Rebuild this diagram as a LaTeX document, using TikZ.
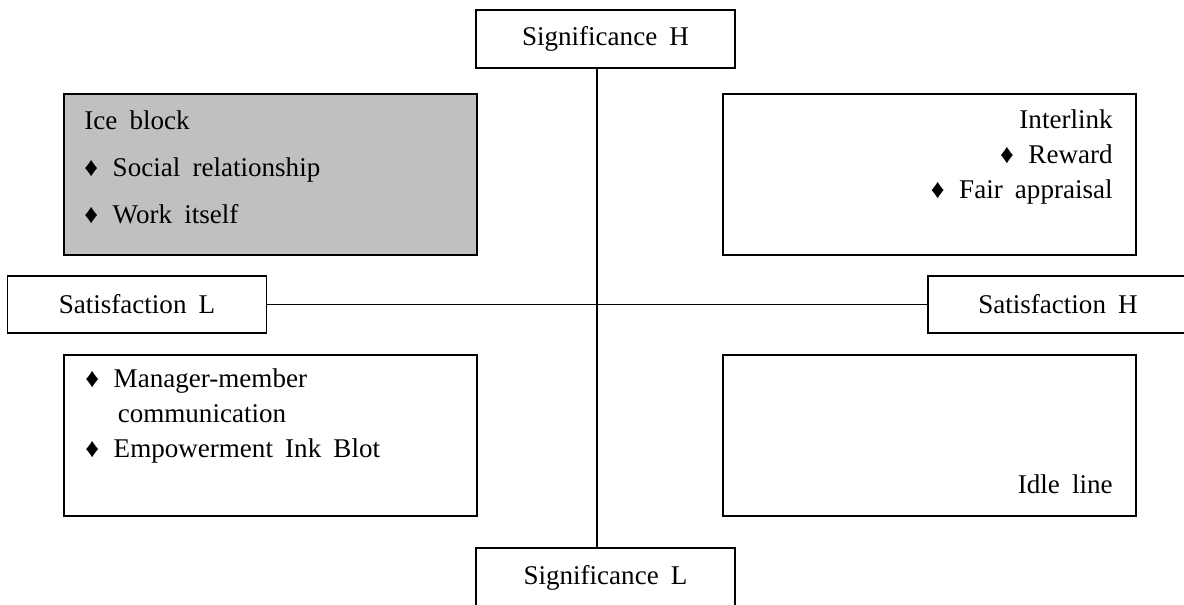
\documentclass[tikz,border=0pt]{standalone}
\usepackage{fontspec}
\setmainfont{Liberation Serif}[WordSpace=1.8]
\usetikzlibrary{positioning}
\definecolor{iceblock}{RGB}{192,192,192}
\tikzstyle{axisbox}  = [rectangle, minimum width=5.18cm, minimum height=1.15cm, inner sep=0, text centered, draw=black, line width=1.1pt, fill=white]
\tikzstyle{quadrant} = [rectangle, minimum width=8.26cm, minimum height=3.22cm, inner sep=0, draw=black, line width=1.1pt]
\tikzstyle{axisline} = [line width=0.8pt]
\tikzstyle{wide}     = [inner sep=0, align=left, font=\fontsize{15.4}{26.7}\selectfont]
\tikzstyle{narrow}   = [inner sep=0, font=\fontsize{15.4}{19.9}\selectfont]
\newcommand{\itm}{\makebox[1.05em][l]{♦}}

\begin{document}
\begin{tikzpicture}[x=0.02cm, y=-0.02cm, font=\fontsize{15.4}{18.5}\selectfont]
        \useasboundingbox (0,0) rectangle (1184,605);
        \coordinate (cross) at (597,304);

        \node (sigH) [axisbox] at (605.5,39) {Significance H};
        \node (sigL) [axisbox, minimum height=1.2cm] at (605.5,578) {Significance L};
        \node (satL) [axisbox] at (137,304.5) {Satisfaction L};
        \node (satH) [axisbox, minimum width=5.2cm] at (1058,304.5) {Satisfaction H};

        \node (iceBlock) [quadrant, fill=iceblock] at (270.5,174.5) {};
        \node (interlink) [quadrant, right=4.88cm of iceBlock] {};
        \node (inkBlot) [quadrant, below=1.96cm of iceBlock] {};
        \node (idleLine) [quadrant, below=1.96cm of interlink] {};

        % base anchor sits on the last line
        \node (iceText) [wide, anchor=base west] at (84,223) {Ice block\\ \itm Social relationship\\ \itm Work itself};
        \node (interText) [narrow, align=right, anchor=base east] at (1113,198) {Interlink\\ \itm Reward\\ \itm Fair appraisal};
        \node (inkText) [narrow, align=left, anchor=base west] at (85,457) {\itm Manager-member\\ \hspace*{1.2em}communication\\ \itm Empowerment Ink Blot};
        \node (idleText) [narrow, anchor=base east] at (1113,493) {Idle line};

        \draw [axisline] (sigH.south -| cross) -- (sigL.north -| cross);
        \draw [axisline] (satL.east) -- (satH.west);
    \end{tikzpicture}
\end{document}
